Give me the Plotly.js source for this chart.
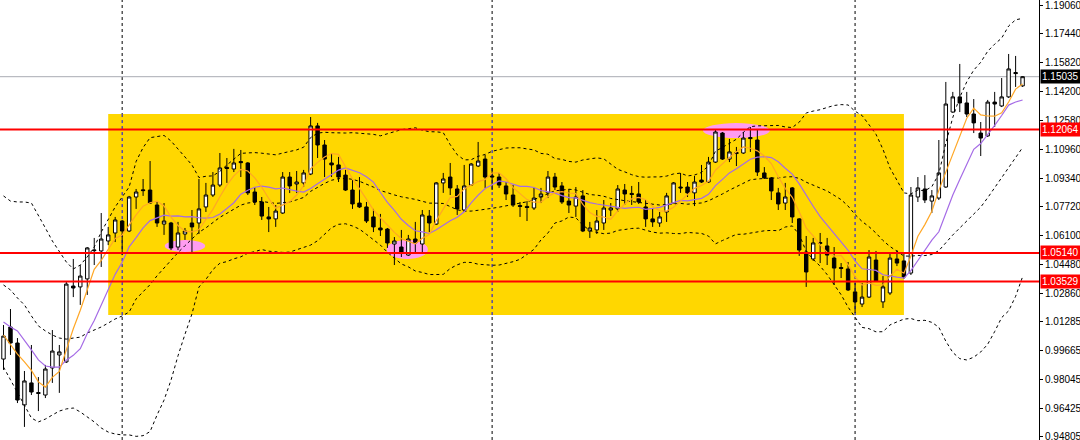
<!DOCTYPE html>
<html>
<head>
<meta charset="utf-8">
<script src="https://cdn.plot.ly/plotly-3.0.1.min.js"></script>
<style>html,body{margin:0;padding:0;background:#fff;}#chart{width:1080px;height:440px;}</style>
</head>
<body>
<div id="chart"></div>
<script>
// Weekly candles (EUR/USD style)
const open = [0.9918,1.0098,1.0008,0.9660,0.9784,0.9730,0.9716,0.9868,0.9941,0.9902,
1.0328,1.0323,1.0368,1.0531,1.0525,1.0581,1.0626,1.0693,1.0637,1.0828,
1.0868,1.0867,1.0783,1.0676,1.0682,1.0547,1.0620,1.0682,1.0682,1.0772,
1.0839,1.0895,1.0994,1.0985,1.1027,1.1019,1.0856,1.0800,1.0716,1.0705,
1.0738,1.0940,1.0901,1.0907,1.0957,1.1227,1.1120,1.1019,1.1008,1.0951,
1.0867,1.0794,1.0772,1.0716,1.0654,1.0648,1.0564,1.0547,1.0502,1.0592,
1.0564,1.0721,1.0676,1.0907,1.0940,1.0873,1.0755,1.0895,1.1002,1.1041,
1.0946,1.0940,1.0890,1.0839,1.0780,1.0775,1.0766,1.0828,1.0851,1.0940,
1.0890,1.0805,1.0777,1.0834,1.0637,1.0643,1.0682,1.0755,1.0761,1.0867,
1.0848,1.0845,1.0772,1.0705,1.0682,1.0744,1.0794,1.0884,1.0884,1.0851,
1.0923,1.0912,1.1024,1.1187,1.1041,1.1078,1.1075,1.1162,1.1148,1.0963,
1.0935,1.0851,1.0794,1.0879,1.0705,1.0519,1.0480,1.0567,1.0553,1.0485,
1.0432,1.0424,1.0295,1.0227,1.0266,1.0474,1.0239,1.0289,1.0480,1.0469,
1.0401,1.0828,1.0873,1.0805,1.0822,1.0884,1.1305,1.1390,1.1356,1.1294,
1.1187,1.1171,1.1361,1.1339,1.1390,1.1527,1.1452];
const high = [1.0109,1.0199,1.0036,0.9851,0.9997,0.9817,0.9885,1.0081,0.9997,1.0351,
1.0480,1.0446,1.0547,1.0598,1.0738,1.0660,1.0716,1.0699,1.0834,1.0873,
1.0929,1.1030,1.0800,1.0794,1.0688,1.0688,1.0654,1.0755,1.0929,1.0907,
1.0968,1.1075,1.1047,1.1098,1.1092,1.1024,1.0884,1.0828,1.0772,1.0783,
1.0968,1.0968,1.0974,1.0980,1.1277,1.1244,1.1148,1.1075,1.1053,1.0980,
1.0923,1.0940,1.0800,1.0761,1.0733,1.0654,1.0603,1.0643,1.0615,1.0688,
1.0755,1.0755,1.0912,1.0963,1.1019,1.0895,1.1008,1.1019,1.1137,1.1064,
1.0991,1.0963,1.0912,1.0895,1.0800,1.0805,1.0879,1.0879,1.0974,1.0963,
1.0912,1.0873,1.0884,1.0867,1.0688,1.0755,1.0811,1.0794,1.0895,1.0901,
1.0890,1.0912,1.0811,1.0766,1.0744,1.0851,1.0912,1.0963,1.0912,1.0946,
1.1008,1.1053,1.1204,1.1193,1.1154,1.1109,1.1193,1.1221,1.1204,1.0996,
1.0940,1.0879,1.0907,1.0884,1.0710,1.0609,1.0598,1.0626,1.0598,1.0547,
1.0457,1.0463,1.0345,1.0345,1.0530,1.0525,1.0384,1.0513,1.0530,1.0513,
1.0884,1.0940,1.0951,1.0867,1.1148,1.1474,1.1418,1.1575,1.1418,1.1378,
1.1249,1.1373,1.1418,1.1496,1.1631,1.1620,1.1507];
const low = [0.9857,0.9941,0.9671,0.9537,0.9716,0.9626,0.9699,0.9784,0.9728,0.9896,
1.0266,1.0222,1.0278,1.0446,1.0435,1.0558,1.0575,1.0502,1.0631,1.0761,
1.0834,1.0789,1.0660,1.0615,1.0530,1.0530,1.0587,1.0519,1.0620,1.0744,
1.0828,1.0884,1.0907,1.0968,1.0940,1.0839,1.0783,1.0699,1.0631,1.0660,
1.0733,1.0850,1.0850,1.0884,1.0951,1.1047,1.0940,1.0940,1.0912,1.0862,
1.0761,1.0766,1.0682,1.0631,1.0609,1.0542,1.0446,1.0491,1.0497,1.0513,
1.0513,1.0631,1.0671,1.0851,1.0839,1.0727,1.0744,1.0890,1.0996,1.0879,
1.0867,1.0879,1.0811,1.0772,1.0716,1.0693,1.0755,1.0794,1.0822,1.0867,
1.0789,1.0738,1.0716,1.0631,1.0598,1.0620,1.0643,1.0721,1.0744,1.0783,
1.0783,1.0789,1.0660,1.0660,1.0660,1.0688,1.0794,1.0851,1.0828,1.0777,
1.0907,1.0907,1.1019,1.1036,1.1024,1.1002,1.1070,1.1081,1.0946,1.0929,
1.0811,1.0755,1.0755,1.0682,1.0497,1.0323,1.0469,1.0457,1.0446,1.0334,
1.0373,1.0300,1.0177,1.0210,1.0261,1.0356,1.0205,1.0278,1.0440,1.0368,
1.0390,1.0800,1.0794,1.0738,1.0811,1.0879,1.1300,1.1305,1.1277,1.1187,
1.1058,1.1165,1.1221,1.1333,1.1384,1.1446,1.1446];
const close = [1.0047,1.0008,0.9688,0.9795,0.9733,0.9725,0.9862,0.9963,0.9958,1.0339,
1.0317,1.0384,1.0542,1.0527,1.0592,1.0615,1.0699,1.0637,1.0828,1.0856,
1.0864,1.0794,1.0682,1.0693,1.0542,1.0626,1.0637,1.0660,1.0761,1.0839,
1.0895,1.0991,1.0988,1.1019,1.1021,1.0851,1.0800,1.0721,1.0705,1.0749,
1.0940,1.0890,1.0912,1.0963,1.1227,1.1120,1.1041,1.1008,1.0940,1.0867,
1.0789,1.0772,1.0693,1.0660,1.0643,1.0570,1.0581,1.0513,1.0592,1.0570,
1.0727,1.0682,1.0907,1.0929,1.0879,1.0761,1.0890,1.1013,1.1030,1.0940,
1.0941,1.0895,1.0845,1.0783,1.0775,1.0769,1.0822,1.0845,1.0940,1.0884,
1.0800,1.0783,1.0828,1.0637,1.0654,1.0693,1.0766,1.0766,1.0873,1.0845,
1.0842,1.0800,1.0705,1.0688,1.0716,1.0834,1.0907,1.0879,1.0851,1.0912,
1.0912,1.1024,1.1193,1.1041,1.1081,1.1072,1.1159,1.1156,1.0968,1.0935,
1.0862,1.0789,1.0828,1.0716,1.0530,1.0407,1.0570,1.0572,1.0502,1.0429,
1.0427,1.0306,1.0239,1.0266,1.0491,1.0356,1.0323,1.0485,1.0457,1.0379,
1.0839,1.0879,1.0811,1.0834,1.0963,1.1350,1.1390,1.1356,1.1294,1.1244,
1.1159,1.1361,1.1350,1.1390,1.1547,1.1521,1.15035];

// Indicator values visible at the left edge (before enough history exists on screen)
const ma5Start = [1.0053,1.0002,0.9946,0.9902];
const ma10Start = [1.0126,1.0098,1.0076,1.0025,0.9969,0.9913,0.9879,0.9873,0.9873];
const bbUpperStart = [1.0834,1.0805,1.0800,1.0800,1.0794,1.0727,1.0654,1.0581,1.0519,1.0463,
1.0424,1.0446,1.0491,1.0547,1.0631,1.0705,1.0772,1.0828,1.0884];
const bbMidStart = [1.0334,1.0306,1.0261,1.0222,1.0160,1.0104,1.0076,1.0053,1.0036,1.0030,
1.0036,1.0041,1.0064,1.0081,1.0098,1.0120,1.0143,1.0160,1.0182];
const bbLowerStart = [0.9873,0.9800,0.9733,0.9654,0.9587,0.9565,0.9581,0.9604,0.9626,0.9638,
0.9643,0.9621,0.9593,0.9565,0.9531,0.9508,0.9497,0.9492,0.9492];

// Horizontal levels and price labels
const levels = [1.12064, 1.05140, 1.03529];
const levelLabels = ["1.12064", "1.05140", "1.03529"];
const lastPrice = 1.15035;
const lastPriceLabel = "1.15035";
const tickValues = [1.19060,1.17440,1.15820,1.14200,1.12580,1.10960,1.09340,1.07720,1.06100,1.04480,1.02860,1.01285,0.99665,0.98045,0.96425,0.94805];
const tickLabels = ["1.19060","1.17440","1.15820","1.14200","1.12580","1.10960","1.09340","1.07720","1.06100","1.04480","1.02860","1.01285","0.99665","0.98045","0.96425","0.94805"];
// Year separators (bar index), highlighted range box and marked zones
const separators = [17, 70, 122];
const rangeBox = {x0: 15, x1: 129, top: 1.1294, bottom: 1.0165};
const zones = [
  {x0: 23.1, x1: 28.9, y0: 1.0519, y1: 1.0587},
  {x0: 54.9, x1: 60.8, y0: 1.0480, y1: 1.0587},
  {x0: 100.2, x1: 109.8, y0: 1.1159, y1: 1.1243}
];

const n = close.length;
const idx = close.map((_, i) => i);
function sma(p, i) { let s = 0; for (let k = i - p + 1; k <= i; k++) s += close[k]; return s / p; }
const ma5 = idx.map(i => i < 4 ? ma5Start[i] : sma(5, i));
const ma10 = idx.map(i => i < 9 ? ma10Start[i] : sma(10, i));
const bbMid = [], bbUp = [], bbLo = [];
for (let i = 0; i < n; i++) {
  if (i < 19) { bbMid.push(bbMidStart[i]); bbUp.push(bbUpperStart[i]); bbLo.push(bbLowerStart[i]); continue; }
  const m = sma(20, i);
  let v = 0; for (let k = i - 19; k <= i; k++) v += (close[k] - m) ** 2;
  const sd = Math.sqrt(v / 20);
  bbMid.push(m); bbUp.push(m + 2 * sd); bbLo.push(m - 2 * sd);
}

const yMin = 0.94635, yMax = 1.19341;
const dashLine = {color: '#000', width: 1, dash: '3px,3px'};
const traces = [
  {type: 'candlestick', x: idx, open: open, high: high, low: low, close: close,
   increasing: {line: {color: '#000', width: 1}, fillcolor: '#ffffff'},
   decreasing: {line: {color: '#000', width: 1}, fillcolor: '#000000'},
   whiskerwidth: 0, hoverinfo: 'skip'},
  {type: 'scatter', mode: 'lines', x: idx, y: bbUp, line: dashLine, hoverinfo: 'skip'},
  {type: 'scatter', mode: 'lines', x: idx, y: bbMid, line: dashLine, hoverinfo: 'skip'},
  {type: 'scatter', mode: 'lines', x: idx, y: bbLo, line: dashLine, hoverinfo: 'skip'},
  {type: 'scatter', mode: 'lines', x: idx, y: ma10, line: {color: '#a56be6', width: 1.2}, hoverinfo: 'skip'},
  {type: 'scatter', mode: 'lines', x: idx, y: ma5, line: {color: '#ffa726', width: 1.2}, hoverinfo: 'skip'}
];

const shapes = [];
separators.forEach(s => shapes.push({type: 'line', layer: 'below', xref: 'x', yref: 'paper', x0: s, x1: s, y0: 0, y1: 1, line: {color: '#000', width: 1, dash: '3px,3px'}}));
shapes.push({type: 'rect', layer: 'below', xref: 'x', yref: 'y', x0: rangeBox.x0, x1: rangeBox.x1, y0: rangeBox.bottom, y1: rangeBox.top, fillcolor: '#FFD700', line: {width: 0}});
separators.forEach(s => { if (s > rangeBox.x0 && s < rangeBox.x1) shapes.push({type: 'line', layer: 'below', xref: 'x', yref: 'y', x0: s, x1: s, y0: rangeBox.bottom, y1: rangeBox.top, line: {color: '#0000ff', width: 1, dash: '3px,3px'}}); });
zones.forEach(z => shapes.push({type: 'circle', layer: 'below', xref: 'x', yref: 'y', x0: z.x0, x1: z.x1, y0: z.y0, y1: z.y1, fillcolor: '#FF9CF0', line: {width: 0}}));
shapes.push({type: 'line', layer: 'below', xref: 'paper', yref: 'y', x0: 0, x1: 1, y0: lastPrice, y1: lastPrice, line: {color: '#a9acb3', width: 1}});
levels.forEach(l => shapes.push({type: 'line', layer: 'above', xref: 'paper', yref: 'y', x0: 0, x1: 1, y0: l, y1: l, line: {color: '#ff0000', width: 2}}));

const annotations = levels.map((l, k) => ({xref: 'paper', yref: 'y', x: 1, y: l, xanchor: 'left', yanchor: 'middle', xshift: 1, showarrow: false,
  text: levelLabels[k], bgcolor: '#ff0000', borderpad: 1, font: {family: 'Liberation Sans, Arial, sans-serif', size: 10, color: '#ffffff'}}));
annotations.push({xref: 'paper', yref: 'y', x: 1, y: lastPrice, xanchor: 'left', yanchor: 'middle', xshift: 1, showarrow: false,
  text: lastPriceLabel, bgcolor: '#000000', borderpad: 1, font: {family: 'Liberation Sans, Arial, sans-serif', size: 10, color: '#ffffff'}});

const layout = {
  width: 1080, height: 440,
  margin: {l: 0, r: 41, t: 0, b: 0, pad: 0},
  paper_bgcolor: '#ffffff', plot_bgcolor: '#ffffff',
  showlegend: false,
  boxgap: 0.3,
  xaxis: {range: [-0.501, 148.35], visible: false, rangeslider: {visible: false}, fixedrange: true},
  yaxis: {range: [yMin, yMax], side: 'right', showgrid: false, zeroline: false,
    tickmode: 'array', tickvals: tickValues, ticktext: tickLabels, ticklabeloverflow: 'allow',
    ticks: 'outside', ticklen: 3, tickcolor: '#000', showline: true, linecolor: '#000', linewidth: 1,
    tickfont: {family: 'Liberation Sans, Arial, sans-serif', size: 10, color: '#000'}},
  shapes: shapes, annotations: annotations
};

Plotly.newPlot('chart', traces, layout, {staticPlot: true, displayModeBar: false});
</script>
</body>
</html>
